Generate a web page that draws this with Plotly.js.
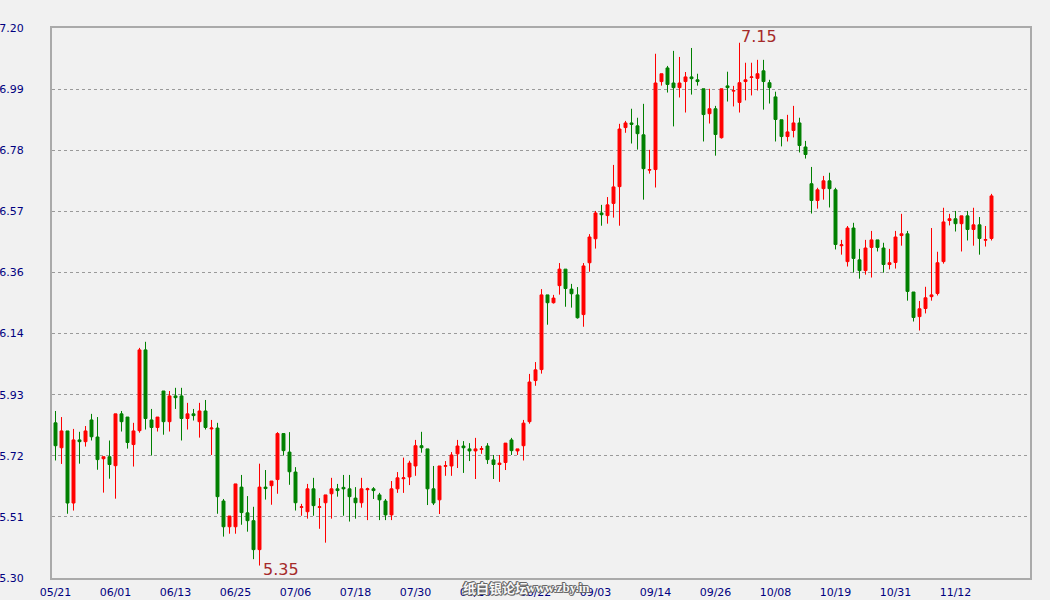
<!DOCTYPE html>
<html>
<head>
<meta charset="utf-8">
<script src="https://cdn.plot.ly/plotly-3.0.1.min.js"></script>
<style>html,body{margin:0;padding:0;background:#f1f1f1;}#chart{width:1050px;height:600px;}</style>
</head>
<body>
<div id="chart"></div>
<script>
const openP = [5.836,5.750,5.808,5.559,5.777,5.771,5.846,5.787,5.712,5.719,5.688,5.867,5.856,5.761,5.809,6.088,5.846,5.820,5.946,5.840,5.929,5.929,5.851,5.867,5.840,5.877,5.815,5.818,5.566,5.477,5.477,5.614,5.525,5.498,5.398,5.614,5.619,5.640,5.799,5.735,5.666,5.544,5.529,5.608,5.544,5.560,5.591,5.608,5.613,5.608,5.576,5.560,5.605,5.608,5.587,5.566,5.518,5.608,5.643,5.649,5.687,5.757,5.746,5.608,5.570,5.686,5.687,5.729,5.756,5.746,5.739,5.744,5.756,5.708,5.692,5.699,5.777,5.739,5.757,5.840,5.982,6.020,6.278,6.251,6.310,6.367,6.298,6.278,6.210,6.389,6.472,6.561,6.552,6.594,6.652,6.856,6.872,6.862,6.831,6.709,6.711,7.015,7.062,7.010,6.994,7.015,7.031,7.021,6.990,6.904,6.921,6.821,7.000,6.982,6.943,7.015,7.029,7.026,7.052,7.011,6.962,6.883,6.825,6.846,6.872,6.789,6.662,6.604,6.645,6.672,6.641,6.448,6.393,6.509,6.399,6.362,6.442,6.468,6.440,6.383,6.390,6.483,6.489,6.288,6.203,6.231,6.272,6.283,6.393,6.535,6.541,6.524,6.551,6.504,6.520,6.467,6.473];
const highP = [5.877,5.856,5.808,5.815,5.805,5.825,5.867,5.856,5.719,5.775,5.867,5.877,5.856,5.836,6.095,6.116,5.884,5.856,5.946,5.946,5.957,5.957,5.905,5.884,5.905,5.915,5.846,5.836,5.573,5.514,5.625,5.656,5.583,5.546,5.695,5.673,5.635,5.804,5.799,5.804,5.683,5.556,5.625,5.646,5.576,5.587,5.646,5.625,5.656,5.656,5.614,5.646,5.612,5.614,5.594,5.573,5.635,5.666,5.716,5.705,5.777,5.805,5.746,5.687,5.687,5.704,5.735,5.777,5.773,5.766,5.784,5.756,5.766,5.725,5.725,5.766,5.784,5.746,5.846,6.005,6.046,6.298,6.278,6.278,6.388,6.367,6.316,6.305,6.388,6.488,6.568,6.589,6.616,6.727,6.869,6.879,6.921,6.890,6.938,6.779,7.111,7.042,7.069,7.121,7.100,7.048,7.131,7.042,6.990,6.990,6.931,6.990,7.049,7.000,7.149,7.080,7.080,7.090,7.090,7.021,6.980,6.883,6.900,6.931,6.890,6.810,6.720,6.648,6.689,6.700,6.648,6.468,6.516,6.527,6.437,6.468,6.499,6.468,6.458,6.437,6.499,6.558,6.499,6.288,6.257,6.306,6.509,6.427,6.579,6.558,6.568,6.551,6.568,6.579,6.547,6.516,6.627];
const lowP = [5.706,5.694,5.522,5.533,5.695,5.754,5.775,5.674,5.595,5.643,5.574,5.806,5.747,5.685,5.802,5.813,5.723,5.806,5.795,5.806,5.884,5.775,5.813,5.844,5.785,5.813,5.725,5.522,5.443,5.453,5.453,5.484,5.460,5.365,5.343,5.571,5.553,5.591,5.723,5.622,5.533,5.515,5.505,5.515,5.470,5.422,5.505,5.581,5.515,5.495,5.505,5.543,5.500,5.573,5.500,5.500,5.500,5.594,5.594,5.621,5.653,5.733,5.552,5.552,5.521,5.653,5.653,5.680,5.663,5.704,5.642,5.729,5.694,5.642,5.632,5.673,5.725,5.725,5.706,5.833,5.964,6.006,6.175,6.248,6.279,6.237,6.234,6.196,6.168,6.358,6.438,6.517,6.524,6.545,6.517,6.838,6.801,6.780,6.607,6.697,6.649,7.001,6.977,6.860,6.960,6.908,6.970,7.001,6.808,6.870,6.759,6.818,6.946,6.929,6.908,6.950,6.967,6.984,6.918,6.939,6.808,6.791,6.808,6.822,6.770,6.749,6.559,6.576,6.607,6.580,6.435,6.417,6.376,6.355,6.334,6.348,6.338,6.428,6.355,6.366,6.369,6.448,6.258,6.186,6.155,6.214,6.258,6.276,6.386,6.518,6.497,6.428,6.466,6.448,6.417,6.445,6.466];
const closeP = [5.757,5.808,5.559,5.777,5.771,5.808,5.788,5.709,5.719,5.692,5.867,5.840,5.768,5.808,6.088,5.851,5.820,5.856,5.840,5.929,5.923,5.851,5.867,5.861,5.877,5.820,5.818,5.581,5.477,5.514,5.625,5.526,5.498,5.398,5.614,5.609,5.635,5.799,5.740,5.667,5.560,5.546,5.608,5.550,5.546,5.587,5.608,5.602,5.608,5.581,5.560,5.608,5.608,5.602,5.570,5.518,5.608,5.646,5.646,5.697,5.757,5.750,5.608,5.559,5.687,5.688,5.725,5.756,5.750,5.739,5.746,5.747,5.709,5.692,5.697,5.766,5.740,5.746,5.835,5.977,6.019,6.278,6.251,6.267,6.367,6.300,6.282,6.199,6.378,6.478,6.561,6.555,6.589,6.651,6.851,6.872,6.867,6.835,6.714,6.711,7.010,7.042,7.005,6.994,7.010,7.031,7.025,7.015,6.901,6.921,6.832,6.990,6.994,6.984,7.011,7.021,7.031,7.042,7.015,6.994,6.884,6.825,6.841,6.872,6.794,6.763,6.604,6.641,6.672,6.645,6.452,6.451,6.509,6.404,6.362,6.440,6.468,6.442,6.383,6.389,6.478,6.489,6.290,6.200,6.230,6.268,6.278,6.389,6.530,6.541,6.524,6.551,6.504,6.520,6.473,6.469,6.620];

const tickDates = ['05/21','06/01','06/13','06/25','07/06','07/18','07/30','08/10','08/22','09/03','09/14','09/26','10/08','10/19','10/31','11/12'];
const tickEvery = 10;
const yTickLabels = ['5.30','5.51','5.72','5.93','6.14','6.36','6.57','6.78','6.99','7.20'];
const yMin = 5.30, yMax = 7.20;
const highLabel = '7.15';
const lowLabel = '5.35';
const watermarkCJK = '纸白银论坛';
const watermarkURL = 'www.zby.in';

const xIdx = openP.map((_, i) => i);
const xTickVals = tickDates.map((_, k) => k * tickEvery);
const yTickVals = yTickLabels.map((_, k) => yMin + k * (yMax - yMin) / (yTickLabels.length - 1));

let hiIdx = 0, loIdx = 0;
highP.forEach((v, i) => { if (v > highP[hiIdx]) hiIdx = i; });
lowP.forEach((v, i) => { if (v < lowP[loIdx]) loIdx = i; });

const trace = {
  type: 'candlestick',
  x: xIdx, open: openP, high: highP, low: lowP, close: closeP,
  increasing: { line: { color: '#ff0000', width: 1 }, fillcolor: '#ff0000' },
  decreasing: { line: { color: '#008000', width: 1 }, fillcolor: '#008000' },
  whiskerwidth: 0,
  hoverinfo: 'none'
};

const tickFont = { family: 'DejaVu Sans, Verdana, sans-serif', size: 11, color: '#000080' };
const wmShadow = '1px 0 0 #666, -1px 0 0 #666, 0 1px 0 #666, 0 -1px 0 #666, 1px 1px 0 #666, -1px -1px 0 #666';

const layout = {
  width: 1050, height: 600,
  margin: { l: 52, r: 20, t: 28, b: 22 },
  paper_bgcolor: '#f1f1f1', plot_bgcolor: '#f1f1f1',
  showlegend: false,
  xaxis: {
    range: [-0.5 - 1/12, 162.5 - 1/12],
    rangeslider: { visible: false },
    tickmode: 'array', tickvals: xTickVals, ticktext: tickDates,
    showgrid: false, zeroline: false,
    showline: true, mirror: true, linecolor: '#aaaaaa', linewidth: 2,
    ticks: '', tickfont: tickFont, ticklabelstandoff: 3
  },
  yaxis: {
    range: [yMin, yMax],
    tickmode: 'array', tickvals: yTickVals, ticktext: yTickLabels,
    showgrid: true, gridcolor: '#9a9a9a', griddash: 'dot', gridwidth: 1,
    zeroline: false,
    showline: true, mirror: true, linecolor: '#aaaaaa', linewidth: 2,
    ticks: '', tickfont: tickFont, ticklabelstandoff: 24
  },
  annotations: [
    { x: hiIdx, y: highP[hiIdx], xref: 'x', yref: 'y', text: highLabel, showarrow: false,
      xanchor: 'left', yanchor: 'middle', xshift: -1, yshift: 6,
      font: { family: 'DejaVu Sans, sans-serif', size: 16, color: '#a52a2a' } },
    { x: loIdx, y: lowP[loIdx], xref: 'x', yref: 'y', text: lowLabel, showarrow: false,
      xanchor: 'left', yanchor: 'middle', xshift: 1, yshift: -4,
      font: { family: 'DejaVu Sans, sans-serif', size: 16, color: '#a52a2a' } },
    { x: 0.5, y: 0, xref: 'paper', yref: 'paper', text: '<b>' + watermarkCJK + '</b>', showarrow: false,
      xanchor: 'left', yanchor: 'middle', yshift: -9, xshift: -80,
      font: { family: 'Noto Sans CJK SC, sans-serif', size: 13, color: '#f8f8f8', shadow: wmShadow } },
    { x: 0.5, y: 0, xref: 'paper', yref: 'paper', text: '<b>' + watermarkURL + '</b>', showarrow: false,
      xanchor: 'left', yanchor: 'middle', yshift: -9, xshift: -17,
      font: { family: 'Liberation Serif, serif', size: 13, color: '#f8f8f8', shadow: wmShadow } }
  ]
};

Plotly.newPlot('chart', [trace], layout, { staticPlot: true, displayModeBar: false });
</script>
</body>
</html>
